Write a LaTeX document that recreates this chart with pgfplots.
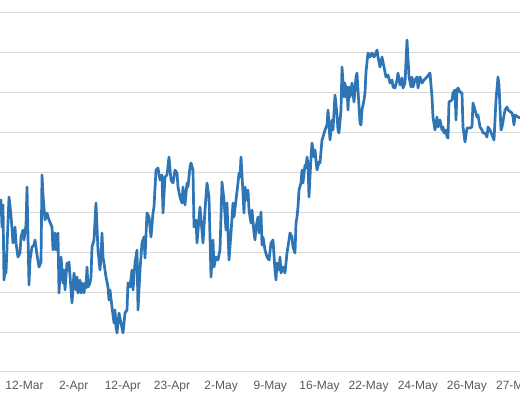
\documentclass[border=0pt]{standalone}
\usepackage{fontspec}
\setmainfont{Liberation Sans}
\usepackage{pgfplots}
\pgfplotsset{compat=1.18}
\definecolor{lineblue}{HTML}{2E75B6}
\definecolor{gridgray}{HTML}{D9D9D9}
\definecolor{labelgray}{HTML}{595959}

\begin{document}
\begin{tikzpicture}
\clip (0,0) rectangle (520bp,400bp);
\path[use as bounding box] (0,0) rectangle (520bp,400bp);
\begin{axis}[
    at={(0,28bp)}, anchor=south west,
    scale only axis,
    width=520bp, height=360bp,
    xmin=0, xmax=520, ymin=0, ymax=90,
    axis x line=bottom, axis y line=left,
    x axis line style={draw=gridgray, line width=1bp, -},
    y axis line style={draw=none},
    ymajorgrids, ytick={10,20,...,90}, yticklabels={},
    grid style={draw=gridgray, line width=1bp},
    xtick={24.5,73.7,122.8,172,221.1,270.3,319.5,368.6,417.8,466.9,516.1},
    xticklabels={12-Mar,2-Apr,12-Apr,23-Apr,2-May,9-May,16-May,22-May,24-May,26-May,27-May},
    major tick length=0pt,
    xticklabel style={font=\fontsize{12bp}{14bp}\selectfont, text=labelgray, yshift=-6bp},
    clip=false,
]
\addplot[color=lineblue, line width=2.7bp, line join=round] table {
x y
0 42.25
1 43
2 36.25
3 41.75
4 23
5 25.5
6 24.75
9 43.75
11 39.25
13 32.25
15 36.25
16 32.25
18 28.75
20 29.75
21 33.75
23 35.5
24 33
26 36.75
27 46.25
29 21.75
30 28
32 31.25
34 31.75
35 33
36 31.25
37 29.25
39 26.25
41 27.5
42 49.25
43 44.25
45 38
47 39.75
49 38
52 36.25
53 30.5
55 34.75
56 30.5
58 34.75
59 19.75
61 28.75
63 22.25
64 25.5
65 20.5
67 27.25
68 25.5
69 27.5
72 17.25
74 24.75
76 20.5
77 23.75
78 19.75
80 23
81 19.75
82 22.25
84 19.75
85 22.25
86 21
87 26.25
88 21.25
90 22.25
91 23.75
92 31.25
94 33
96 42.25
97 36.25
98 30.5
100 25.5
101 28.75
102 34.75
103 28.75
104 27.25
106 23.75
108 21.25
109 18
110 20.5
112 16.25
114 12.25
115 15.5
116 11.25
117 9.75
119 14.75
121 12.25
123 9.75
125 14.75
127 15.5
128 22.25
130 21.25
132 25.5
133 20.5
135 27.25
137 30.5
138 15.5
140 25.5
142 32.25
144 33.75
145 28.5
147 39.75
149 38.75
151 33.75
153 39.75
154 41.25
156 50.5
158 51
160 48
162 49.25
163 39.75
165 48.75
167 49.25
169 53.75
171 48
173 47.25
175 50.5
177 49.75
178 46.25
180 43.75
182 42.25
183 46.25
185 41.75
187 47.25
188 46.25
190 51.25
191 52.25
193 50.5
194 36.25
196 38
197 32.25
200 41.25
203 32.25
205 40.5
207 47.25
209 43.75
210 33.75
211 23.75
213 33
214 26.25
216 28.75
218 28
220 30.5
221 38.75
222 47.5
224 43
226 35.5
227 42.25
229 28
231 34.75
233 42.25
234 38.75
236 43
238 47.25
239 49.75
240 48.75
241 53.75
243 44.75
244 39.75
245 46.25
247 43
248 45.5
249 40.5
251 37.25
252 40.5
254 34.75
255 33
256 36.25
258 38.75
259 34.75
261 40
262 31.75
263 33.75
265 30.5
267 28.75
269 28
271 32.25
273 33
275 25.5
276 23
277 27.25
279 25.5
280 28.75
281 24.75
283 26.25
285 24.75
286 27.25
287 29.75
289 33
290 34.75
292 33.75
293 31.25
295 29.75
296 37.25
297 38.75
298 41.25
299 45.5
301 47.25
302 50.5
303 47.25
305 51.75
306 51
307 53.75
308 51.75
309 43.75
311 53.75
312 57.25
314 53.75
315 55.5
317 50.5
319 52.5
320 52.25
322 58
323 58.75
325 60.5
327 61.75
328 65.5
330 58
332 63
333 60.5
335 69.25
337 64.25
338 60.5
339 59.75
341 65.5
342 76.25
344 68.75
345 72.25
346 68.75
347 71.25
348 65.5
349 71.25
350 68.75
352 72.25
353 69.75
354 67.5
356 73.75
357 74.75
358 70.5
360 62.25
361 61.75
362 65.5
364 68
365 69.75
366 75
368 79.75
370 78.75
372 79.75
374 78.75
375 79.25
377 80.5
378 78.75
380 76.25
382 78.75
384 76.25
386 73.75
388 74.25
390 72.25
392 73
393 71.25
395 71
397 73
398 74.75
400 71.75
402 73.5
403 71
405 72.25
407 83
409 73.75
411 71.25
412 73.75
413 71.25
415 73
417 73.75
418 71
420 73.75
422 72.25
424 73
427 73.75
430 74.75
432 68.75
433 63.75
435 60.5
437 63.75
438 61.25
440 63
442 60.5
443 61.25
444 59.75
446 60.5
447 58.75
448 58.5
449 67.5
452 68
453 69.75
455 70.5
456 63
457 70.5
458 71
460 70
462 69.75
463 61.25
465 57.5
467 61
470 61
472 61.25
473 67.25
475 65.5
477 63.75
478 64.25
480 61.25
482 60.5
483 59.75
485 59.75
487 58.75
488 61.25
490 60.5
492 59.25
494 58
496 68
498 73.75
499 71.75
501 60.5
502 61.25
505 65.5
507 66.25
508 65.5
512 64.75
513 63.75
514 61.75
515 64.25
518 63.75
520 63.5
};
\end{axis}
\end{tikzpicture}
\end{document}
